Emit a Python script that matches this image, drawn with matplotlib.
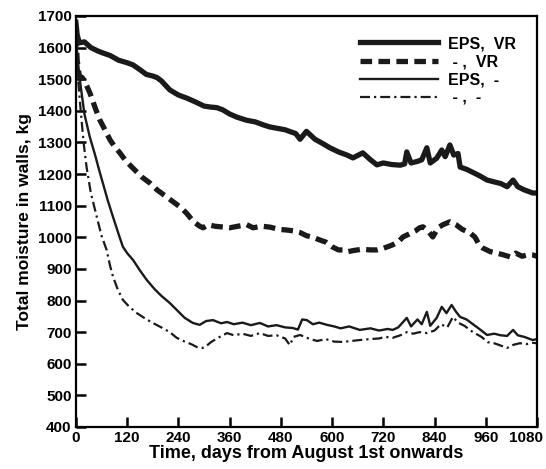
import matplotlib
matplotlib.use("Agg")
import matplotlib.pyplot as plt
from matplotlib.transforms import ScaledTranslation

# leituras aproximadas da figura original (dias, kg)
dias_eps_vr = [0, 3, 8, 20, 35, 50, 63, 80, 100, 120, 134, 150, 165, 180, 190, 200, 220, 240, 260, 280,
               300, 314, 330, 344, 360, 377, 400, 420, 440, 454, 470, 490, 500, 515, 525, 540, 560, 580,
               595, 615, 635, 649, 672, 690, 705, 720, 740, 760, 770, 775, 785, 800, 810, 822, 830, 845,
               857, 865, 876, 885, 895, 900, 915, 930, 945, 963, 980, 995, 1010, 1024, 1035, 1050, 1070, 1080]
eps_vr = [1680, 1640, 1615, 1618, 1600, 1590, 1583, 1575, 1560, 1552, 1545, 1530, 1515, 1510, 1505, 1495,
          1466, 1450, 1440, 1428, 1415, 1412, 1410, 1403, 1390, 1380, 1370, 1365, 1355, 1349, 1345, 1340,
          1335, 1328, 1310, 1335, 1310, 1295, 1283, 1270, 1260, 1251, 1267, 1245, 1229, 1235, 1230, 1228,
          1232, 1270, 1235, 1240, 1245, 1283, 1235, 1250, 1276, 1255, 1292, 1260, 1265, 1222, 1215, 1205,
          1195, 1181, 1175, 1170, 1160, 1181, 1160, 1150, 1140, 1140]

dias_vr = [0, 3, 8, 15, 25, 33, 45, 56, 68, 80, 90, 103, 115, 126, 140, 155, 173, 190, 210, 225, 244, 260,
           275, 290, 298, 310, 325, 340, 360, 380, 400, 415, 435, 455, 475, 494, 510, 525, 540, 555, 572,
           585, 600, 615, 625, 635, 650, 670, 690, 705, 720, 740, 755, 766, 780, 795, 805, 813, 825, 836,
           848, 860, 876, 890, 905, 923, 935, 945, 953, 970, 985, 1000, 1017, 1030, 1045, 1060, 1070, 1080]
vr = [1640, 1560, 1510, 1505, 1480, 1456, 1410, 1371, 1340, 1308, 1288, 1267, 1245, 1229, 1210, 1190, 1172,
      1150, 1130, 1115, 1096, 1075, 1050, 1035, 1030, 1040, 1035, 1033, 1030, 1035, 1040, 1030, 1035, 1032,
      1025, 1023, 1020, 1015, 1005, 1000, 991, 985, 970, 960, 960, 954, 958, 962, 960, 960, 965, 975, 985,
      1001, 1010, 1020, 1030, 1033, 1020, 1001, 1030, 1040, 1049, 1040, 1025, 1014, 1000, 975, 966, 955,
      950, 945, 938, 950, 940, 945, 944, 940]

dias_eps = [0, 3, 9, 20, 32, 45, 55, 63, 75, 87, 100, 110, 120, 134, 150, 166, 185, 200, 220, 240, 255, 274,
            290, 305, 321, 340, 354, 370, 390, 410, 431, 450, 470, 490, 508, 520, 530, 541, 555, 570, 588,
            605, 620, 640, 665, 690, 710, 730, 742, 755, 765, 775, 785, 800, 810, 822, 830, 845, 857, 868,
            880, 890, 900, 915, 930, 945, 963, 980, 995, 1010, 1024, 1035, 1050, 1070, 1080]
eps = [1640, 1580, 1500, 1390, 1320, 1260, 1210, 1172, 1115, 1064, 1010, 970, 950, 928, 895, 865, 835, 815,
       792, 765, 745, 729, 723, 735, 738, 728, 732, 725, 730, 722, 729, 718, 722, 715, 713, 708, 740, 738,
       725, 730, 723, 718, 712, 718, 707, 712, 705, 710, 707, 715, 730, 745, 718, 740, 725, 764, 720, 745,
       780, 760, 786, 765, 748, 740, 725, 710, 691, 695, 690, 688, 707, 690, 685, 675, 678]

dias_ref = [0, 4, 10, 18, 25, 35, 49, 60, 72, 80, 87, 98, 110, 125, 143, 160, 180, 200, 220, 236, 255, 270,
            283, 297, 305, 314, 330, 354, 370, 390, 410, 431, 450, 470, 490, 501, 510, 525, 545, 565, 585,
            605, 625, 645, 665, 690, 710, 725, 742, 760, 775, 790, 805, 822, 840, 855, 870, 883, 895, 910,
            930, 950, 965, 977, 990, 1010, 1025, 1040, 1055, 1070, 1080]
ref = [1620, 1520, 1420, 1300, 1222, 1140, 1064, 1005, 960, 910, 875, 835, 802, 780, 760, 745, 729, 715, 700,
       682, 670, 662, 653, 650, 655, 666, 680, 697, 690, 695, 688, 697, 688, 690, 680, 659, 685, 691, 680,
       672, 678, 670, 669, 672, 675, 678, 680, 685, 682, 690, 700, 695, 700, 697, 705, 725, 715, 748, 730,
       720, 700, 685, 668, 666, 660, 650, 660, 665, 662, 666, 665]

rotulos = ["EPS,  VR", " - ,  VR", "EPS,  -", " - ,  -"]

plt.rcParams["font.family"] = ["Liberation Sans", "DejaVu Sans"]
plt.rcParams["font.weight"] = "bold"

fig = plt.figure(figsize=(5.46, 4.69), dpi=100)
ax = fig.add_axes([0.139, 0.0896, 0.8445, 0.8764])

ax.plot(dias_eps_vr, eps_vr, color="#1a1a1a", lw=3.8, solid_joinstyle="round", label=rotulos[0])
ax.plot(dias_vr, vr, color="#1a1a1a", lw=3.8, linestyle=(0, (2.2, 1.2)), label=rotulos[1])
ax.plot(dias_eps, eps, color="#1a1a1a", lw=1.7, label=rotulos[2])
ax.plot(dias_ref, ref, color="#1a1a1a", lw=1.6, linestyle=(0, (4.5, 1.8, 1, 1.8)), label=rotulos[3])

ax.set_xlim(0, 1080)
ax.set_ylim(400, 1700)
ax.set_xticks(range(0, 1081, 120))
ax.set_yticks(range(400, 1701, 100))
ax.tick_params(direction="in", length=7, width=1.8, labelsize=11, pad=3)
for s in ax.spines.values():
    s.set_linewidth(1.6)

# o "1080" fica deslocado para dentro para caber na figura
ultimo = ax.get_xticklabels()[-1]
ultimo.set_transform(ultimo.get_transform() + ScaledTranslation(-11 / 100, 0, fig.dpi_scale_trans))

ax.set_xlabel("Time, days from August 1st onwards", fontsize=13, fontweight="bold", labelpad=0)
ax.set_ylabel("Total moisture in walls, kg", fontsize=12.5, fontweight="bold", labelpad=4)

leg = ax.legend(loc="upper left", frameon=False, fontsize=11.5, handlelength=4.9,
                handletextpad=0.6, labelspacing=0.2, borderpad=0, borderaxespad=0,
                bbox_to_anchor=(0.616, 0.951))
for t in leg.get_texts():
    t.set_fontweight("bold")

fig.savefig("out.png", dpi=100)
plt.close(fig)
